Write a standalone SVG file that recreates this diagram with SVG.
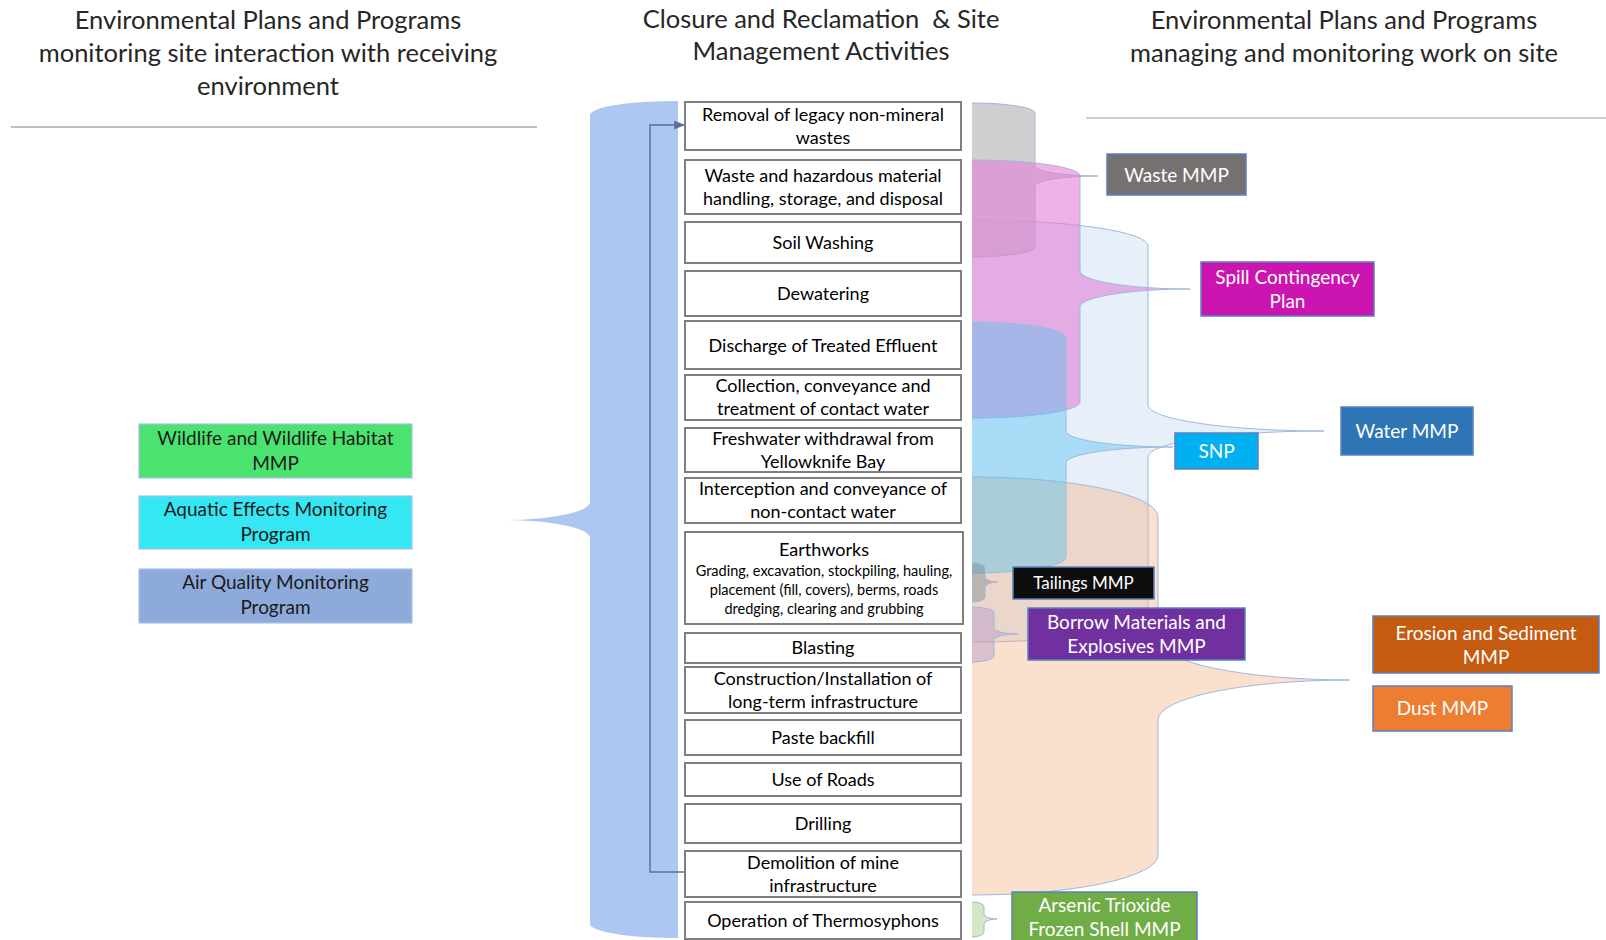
<svg xmlns="http://www.w3.org/2000/svg" width="1606" height="940" viewBox="0 0 1606 940">
<style>
text { font-family: Lato, "Liberation Sans", sans-serif; text-anchor: middle; }
.hdr { font-size: 25.5px; fill: #262626; }
.act { font-size: 18px; fill: #000; }
.sub { font-size: 14.5px; fill: #000; }
.actbox { fill: #fff; stroke: #7f7f7f; stroke-width: 2; }
.lbl { font-size: 19px; fill: #fff; }
.lbld { font-size: 19px; fill: #1a1a1a; }
.lblbox { stroke: #5b80c0; stroke-width: 1.5; }
.lboxl { stroke: #a9c1e6; stroke-width: 1.2; }
.brace { stroke: #9fb8e0; stroke-width: 1; }
.rule { stroke: #bfbfbf; stroke-width: 2; }
.conn { fill: none; stroke: #5b6f99; stroke-width: 1.4; }
</style>
<defs>
<marker id="arr" viewBox="0 0 10 10" refX="9" refY="5" markerWidth="11" markerHeight="9" markerUnits="userSpaceOnUse" orient="auto" preserveAspectRatio="none">
<path d="M0,0 L10,5 L0,10 Z" fill="#5b6f99"/>
</marker>
</defs>

<g id="headers">
<text class="hdr" x="268" y="29">Environmental Plans and Programs</text>
<text class="hdr" x="268" y="62">monitoring site interaction with receiving</text>
<text class="hdr" x="268" y="95">environment</text>
<text class="hdr" x="821" y="28" xml:space="preserve">Closure and Reclamation  &amp; Site</text>
<text class="hdr" x="821" y="60">Management Activities</text>
<text class="hdr" x="1344" y="29">Environmental Plans and Programs</text>
<text class="hdr" x="1344" y="62">managing and monitoring work on site</text>
<line class="rule" x1="11" y1="127" x2="537" y2="127"/>
<line class="rule" x1="1086" y1="118" x2="1606" y2="118" style="stroke-width:1.5"/>
</g>

<g id="braces">
<path id="brace-monitoring" d="M678,101 A88,14 0 0 0 590,115 L590,502 A88,18 0 0 1 502,520 A88,18 0 0 1 590,538 L590,924 A88,14 0 0 0 678,938 Z" fill="#aec6f2"/>
<path id="brace-water" class="brace" d="M972,220 A176,26 0 0 1 1148,246 L1148,405 A176,26 0 0 0 1324,431 A176,26 0 0 0 1148,457 L1148,616 A176,26 0 0 1 972,642" fill="#c9dcf1" fill-opacity="0.45"/>
<path id="brace-erosion" class="brace" d="M972,477 A186,40 0 0 1 1158,517 L1158,640 A192,40 0 0 0 1350,680 A192,40 0 0 0 1158,720 L1158,855 A186,40 0 0 1 972,895" fill="#f4b183" fill-opacity="0.4"/>
<path id="brace-waste" class="brace" d="M972,103 A63,10 0 0 1 1035,113 L1035,166 A63,10 0 0 0 1098,176 A63,10 0 0 0 1035,186 L1035,247 A63,10 0 0 1 972,257" fill="#bfbfbf" fill-opacity="0.75"/>
<path id="brace-spill" class="brace" d="M972,160 A108,16 0 0 1 1080,176 L1080,271 A110,18 0 0 0 1190,289 A110,18 0 0 0 1080,307 L1080,402 A108,16 0 0 1 972,418" fill="#e37fd6" fill-opacity="0.6"/>
<path id="brace-snp" class="brace" d="M972,322 A94,16 0 0 1 1066,338 L1066,431 A107,16 0 0 0 1173,447 A107,16 0 0 0 1066,463 L1066,557 A94,16 0 0 1 972,573" fill="#5cc4f0" fill-opacity="0.45"/>
<path id="brace-tailings" class="brace" d="M972,563 A13,5 0 0 1 985,568 L985,577 A13,5 0 0 0 998,582 A13,5 0 0 0 985,587 L985,597 A13,5 0 0 1 972,602" fill="#6f7f8f" fill-opacity="0.4"/>
<path id="brace-borrow" class="brace" d="M972,607 A22,6 0 0 1 994,613 L994,628 A24,6 0 0 0 1018,634 A24,6 0 0 0 994,640 L994,656 A22,6 0 0 1 972,662" fill="#b090d0" fill-opacity="0.4"/>
<path id="brace-arsenic" class="brace" d="M972,902 A12,5 0 0 1 984,907 L984,914 A13,5 0 0 0 997,919 A13,5 0 0 0 984,924 L984,932 A12,5 0 0 1 972,937" fill="#a9d18e" fill-opacity="0.5"/>
</g>

<g id="connectors">
<path class="conn" d="M685,872 H650 V125 H684" marker-end="url(#arr)"/>
</g>

<g id="act-removal"><rect class="actbox" x="685" y="102" width="276" height="48"/><text class="act" x="823" y="120.5">Removal of legacy non-mineral</text><text class="act" x="823" y="143.5">wastes</text></g>
<g id="act-waste"><rect class="actbox" x="685" y="160" width="276" height="54"/><text class="act" x="823" y="181.5">Waste and hazardous material</text><text class="act" x="823" y="204.5">handling, storage, and disposal</text></g>
<g id="act-soil"><rect class="actbox" x="685" y="222" width="276" height="41"/><text class="act" x="823" y="249">Soil Washing</text></g>
<g id="act-dewatering"><rect class="actbox" x="685" y="271" width="276" height="45"/><text class="act" x="823" y="300">Dewatering</text></g>
<g id="act-discharge"><rect class="actbox" x="685" y="321" width="276" height="48"/><text class="act" x="823" y="351.5">Discharge of Treated Effluent</text></g>
<g id="act-collection"><rect class="actbox" x="685" y="375" width="276" height="45"/><text class="act" x="823" y="392">Collection, conveyance and</text><text class="act" x="823" y="414.5">treatment of contact water</text></g>
<g id="act-freshwater"><rect class="actbox" x="685" y="428" width="276" height="44"/><text class="act" x="823" y="444.5">Freshwater withdrawal from</text><text class="act" x="823" y="467.5">Yellowknife Bay</text></g>
<g id="act-interception"><rect class="actbox" x="685" y="478" width="276" height="45"/><text class="act" x="823" y="495">Interception and conveyance of</text><text class="act" x="823" y="518">non-contact water</text></g>
<g id="act-earthworks"><rect class="actbox" x="685" y="532" width="278" height="92"/><text class="act" x="824" y="556">Earthworks</text><text class="sub" x="824" y="576">Grading, excavation, stockpiling, hauling,</text><text class="sub" x="824" y="595">placement (fill, covers), berms, roads</text><text class="sub" x="824" y="613.5">dredging, clearing and grubbing</text></g>
<g id="act-blasting"><rect class="actbox" x="685" y="633" width="276" height="30"/><text class="act" x="823" y="654">Blasting</text></g>
<g id="act-construction"><rect class="actbox" x="685" y="667" width="276" height="46"/><text class="act" x="823" y="684.5">Construction/Installation of</text><text class="act" x="823" y="707.5">long-term infrastructure</text></g>
<g id="act-paste"><rect class="actbox" x="685" y="720" width="276" height="35"/><text class="act" x="823" y="744">Paste backfill</text></g>
<g id="act-roads"><rect class="actbox" x="685" y="763" width="276" height="33"/><text class="act" x="823" y="786">Use of Roads</text></g>
<g id="act-drilling"><rect class="actbox" x="685" y="804" width="276" height="39"/><text class="act" x="823" y="830">Drilling</text></g>
<g id="act-demolition"><rect class="actbox" x="685" y="851" width="276" height="46"/><text class="act" x="823" y="868.5">Demolition of mine</text><text class="act" x="823" y="891.5">infrastructure</text></g>
<g id="act-thermosyphons"><rect class="actbox" x="685" y="902" width="276" height="37"/><text class="act" x="823" y="927">Operation of Thermosyphons</text></g>

<g id="plan-wildlife"><rect class="lboxl" x="139" y="424" width="273" height="54" fill="#4be36f"/><text class="lbld" x="275.5" y="444.5">Wildlife and Wildlife Habitat</text><text class="lbld" x="275.5" y="470">MMP</text></g>
<g id="plan-aquatic"><rect class="lboxl" x="139" y="496" width="273" height="53" fill="#35e7f2"/><text class="lbld" x="275.5" y="515.5">Aquatic Effects Monitoring</text><text class="lbld" x="275.5" y="540.5">Program</text></g>
<g id="plan-air"><rect class="lboxl" x="139" y="569" width="273" height="54" fill="#8eaadb"/><text class="lbld" x="275.5" y="588.5">Air Quality Monitoring</text><text class="lbld" x="275.5" y="613.5">Program</text></g>

<g id="plan-waste"><rect class="lblbox" x="1107" y="154" width="139" height="41" fill="#767171"/><text class="lbl" x="1176.5" y="181.5">Waste MMP</text></g>
<g id="plan-spill"><rect class="lblbox" x="1201" y="262" width="173" height="54" fill="#cc14b0"/><text class="lbl" x="1287.5" y="284">Spill Contingency</text><text class="lbl" x="1287.5" y="308">Plan</text></g>
<g id="plan-water"><rect class="lblbox" x="1341" y="407" width="132" height="48" fill="#2e75b6"/><text class="lbl" x="1407" y="438">Water MMP</text></g>
<g id="plan-snp"><rect class="lblbox" x="1175" y="433" width="83" height="36" fill="#00b0f0"/><text class="lbl" x="1216.5" y="457.5">SNP</text></g>
<g id="plan-tailings"><rect class="lblbox" x="1013" y="567" width="141" height="32" fill="#0d0d0d"/><text class="lbl" x="1083.5" y="589" style="font-size:17px">Tailings MMP</text></g>
<g id="plan-borrow"><rect class="lblbox" x="1028" y="608" width="217" height="52" fill="#7030a0"/><text class="lbl" x="1136.5" y="628.5">Borrow Materials and</text><text class="lbl" x="1136.5" y="653">Explosives MMP</text></g>
<g id="plan-erosion"><rect class="lblbox" x="1373" y="616" width="226" height="57" fill="#c55a11"/><text class="lbl" x="1486" y="639.5">Erosion and Sediment</text><text class="lbl" x="1486" y="664">MMP</text></g>
<g id="plan-dust"><rect class="lblbox" x="1373" y="686" width="139" height="45" fill="#ed7d31"/><text class="lbl" x="1442.5" y="715">Dust MMP</text></g>
<g id="plan-arsenic"><rect class="lblbox" x="1012" y="892" width="185" height="52" fill="#70ad47"/><text class="lbl" x="1104.5" y="912">Arsenic Trioxide</text><text class="lbl" x="1104.5" y="935.5">Frozen Shell MMP</text></g>
</svg>
